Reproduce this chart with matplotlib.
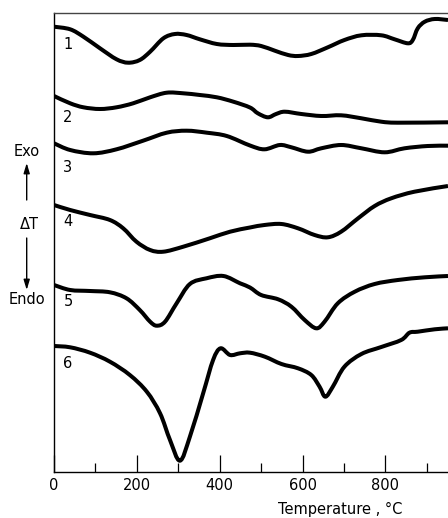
import numpy as np
import matplotlib
matplotlib.use("Agg")
import matplotlib.pyplot as plt
from matplotlib.path import Path
from matplotlib.patches import PathPatch

# DTA curves, temperature in C and delta T in arbitrary units
curve1_T = [0, 39, 71, 111, 151, 179, 207, 232, 264, 292, 320, 352, 393, 433, 473, 500, 533, 565, 589, 621,
            661, 701, 742, 790, 822, 854, 866, 878, 895, 919, 951]
curve1_dT = [445.3, 442.7, 435.3, 423.7, 412.7, 409.3, 412, 420.3, 433.7, 438, 437, 432.7, 428, 427, 427.3, 426,
             421.3, 417, 416, 418, 424.7, 432, 436.7, 436.7, 432.7, 428.7, 432, 443.7, 450.3, 453, 452]

curve2_T = [0, 39, 71, 111, 151, 191, 232, 272, 312, 352, 393, 433, 473, 492, 516, 536, 557, 597, 645, 693,
            742, 790, 830, 951]
curve2_dT = [376, 368.7, 364.7, 363, 364.7, 368.7, 374.7, 379.3, 378.7, 377, 374.7, 370.3, 364.5, 358.7, 354.7,
             358, 360.3, 358, 356, 356.7, 353.7, 350.3, 349.3, 349.7]

curve3_T = [0, 39, 95, 151, 215, 272, 320, 369, 417, 473, 508, 545, 573, 613, 645, 693, 742, 798, 846, 902, 951]
curve3_dT = [328.7, 322, 318.7, 322.7, 331.3, 339.3, 341.3, 339.3, 336, 326.5, 322.7, 327, 324.7, 320.3, 323.7,
             327, 323.7, 319.7, 323.7, 326, 326.3]

curve4_T = [0, 39, 87, 135, 167, 199, 232, 264, 312, 376, 425, 473, 508, 549, 589, 629, 661, 693, 734, 774,
            814, 870, 951]
curve4_dT = [267, 262, 257, 252, 243.7, 230.3, 222, 220.3, 225.3, 233.7, 240.3, 244.5, 247, 248, 243.7, 237,
             234.7, 240.3, 253.7, 266, 273.7, 280.3, 286]

curve5_T = [0, 39, 87, 135, 175, 207, 232, 248, 268, 296, 328, 368, 409, 449, 473, 500, 541, 573, 605, 633,
            653, 685, 726, 774, 830, 895, 951]
curve5_dT = [187, 182, 181, 179.7, 173.7, 162, 150.3, 146.3, 150.3, 168.7, 188, 193.7, 196, 188.7, 184.5, 177,
             172.7, 165.3, 152, 143.7, 150.3, 168.7, 180.3, 188, 192, 194.7, 196]

curve6_T = [0, 39, 87, 135, 183, 224, 256, 280, 304, 328, 360, 384, 402, 425, 449, 473, 509, 549, 589, 621,
            641, 655, 673, 701, 742, 790, 838, 858, 878, 919, 951]
curve6_dT = [126, 124.7, 119.3, 110.3, 97, 80.3, 58.7, 32, 11.3, 35.3, 78.7, 112, 123.7, 117, 118.7, 119.3,
             115.3, 108, 103.7, 97, 85.3, 75.3, 85.3, 105.3, 118, 125, 132, 139.3, 140.3, 142.7, 143.7]

curve_names = ["1", "2", "3", "4", "5", "6"]
major_ticks = [0, 200, 400, 600, 800]
minor_ticks = [100, 300, 500, 700, 900]

curves = [(curve1_T, curve1_dT), (curve2_T, curve2_dT), (curve3_T, curve3_dT),
          (curve4_T, curve4_dT), (curve5_T, curve5_dT), (curve6_T, curve6_dT)]
label_dy = [-18, -21, -24, -16, -17, -17]  # pixels below curve start


def smooth_path(x, y):
    # cubic bezier through every point (catmull-rom tangents)
    p = np.column_stack([x, y]).astype(float)
    n = len(p)
    verts = [p[0]]
    codes = [Path.MOVETO]
    for i in range(n - 1):
        p0 = p[max(i - 1, 0)]
        p1 = p[i]
        p2 = p[i + 1]
        p3 = p[min(i + 2, n - 1)]
        c1 = p1 + (p2 - p0) / 6.0
        c2 = p2 - (p3 - p1) / 6.0
        verts += [c1, c2, p2]
        codes += [Path.CURVE4] * 3
    return Path(verts, codes)


fig = plt.figure(figsize=(4.48, 5.18), dpi=100)
ax = fig.add_axes([54/448, 46/518, 1 - 54/448, 459/518])

for i in range(len(curves)):
    T, dT = curves[i]
    patch = PathPatch(smooth_path(T, dT), facecolor="none", edgecolor="black", lw=2.9,
                      joinstyle="round", capstyle="butt")
    ax.add_patch(patch)
    ax.annotate(curve_names[i], (T[0], dT[0]), xytext=(14*0.72, label_dy[i]*0.72),
                textcoords="offset points", ha="center", va="center", fontsize=10.5)

ax.set_xlim(0, 951)
ax.set_ylim(0, 459)
ax.set_xticks(major_ticks)
ax.set_xticks(minor_ticks, minor=True)
ax.set_yticks([])
ax.tick_params(axis="x", which="major", direction="in", length=12, width=0.9, pad=4, labelsize=10.5)
ax.tick_params(axis="x", which="minor", direction="in", length=6.5, width=0.9)
ax.spines["right"].set_visible(False)
for s in ["left", "bottom", "top"]:
    ax.spines[s].set_linewidth(1.0)
ax.spines["top"].set_color("#444444")

ax.set_xlabel("Temperature , °C", fontsize=10.5)
ax.xaxis.set_label_coords((340 - 54) / 394, (472 - 502) / 459)

# Exo / Endo arrows on the left
fig.text(27/448, 1 - 151.7/518, "Exo", ha="center", va="center", fontsize=10.5)
fig.text(29/448, 1 - 224.5/518, "ΔT", ha="center", va="center", fontsize=10.5)
fig.text(27/448, 1 - 299/518, "Endo", ha="center", va="center", fontsize=10.5)
arrow = dict(arrowstyle="-|>,head_width=0.18,head_length=0.6", color="black", lw=1.0, shrinkA=0, shrinkB=0)
ax.annotate("", xy=(26.7/448, 1 - 163/518), xytext=(26.7/448, 1 - 200/518),
            xycoords="figure fraction", textcoords="figure fraction", arrowprops=arrow, annotation_clip=False)
ax.annotate("", xy=(26.7/448, 1 - 290/518), xytext=(26.7/448, 1 - 238/518),
            xycoords="figure fraction", textcoords="figure fraction", arrowprops=arrow, annotation_clip=False)

plt.savefig("out.png", dpi=100)
